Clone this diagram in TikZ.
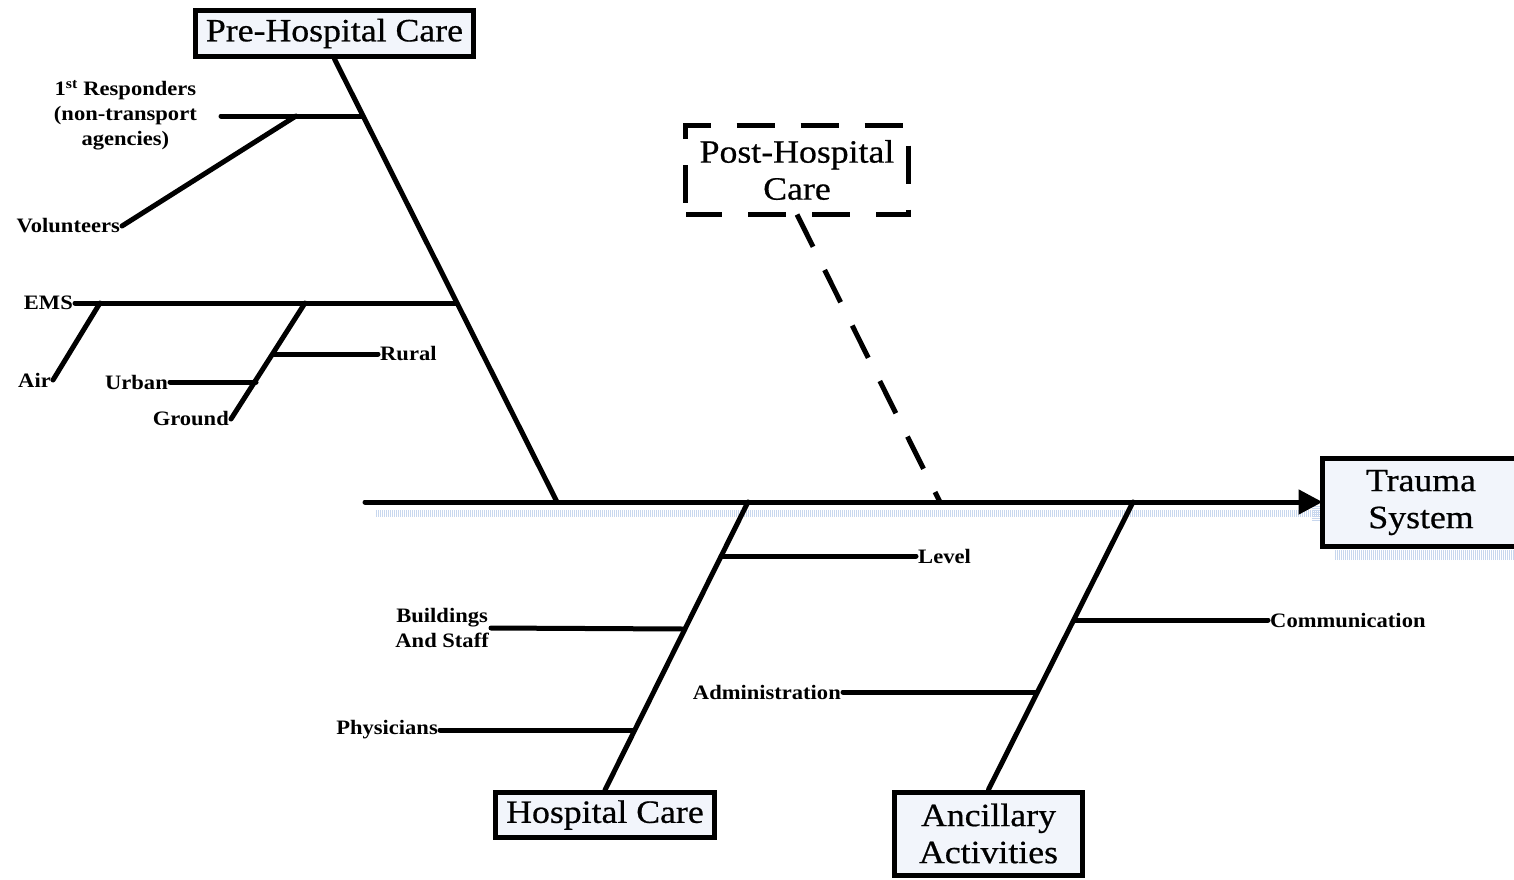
\documentclass[tikz,border=0pt]{standalone}
\usepackage{fontspec}
\setmainfont[FakeStretch=1.1]{Liberation Serif}
\newfontfamily\boxfont[FakeStretch=1.1,FakeBold=0.6]{Liberation Serif}
\usetikzlibrary{arrows.meta}
\definecolor{boxfill}{RGB}{242,245,251}
\definecolor{shadowblue}{RGB}{200,215,238}
\tikzset{
  bone/.style={line width=5pt, line cap=round},
  catbox/.style={draw, line width=5pt, fill=boxfill, inner sep=0pt, align=center,
    font=\boxfont\fontsize{32.5}{37}\selectfont},
  lbl/.style={inner sep=2pt, align=center, font=\bfseries\fontsize{20.5}{25}\selectfont},
  shad/.style={line width=7pt, shadowblue, dash pattern=on 1pt off 1pt},
}
\begin{document}
\begin{tikzpicture}[x=1pt,y=-1pt]
\useasboundingbox (0,0) rectangle (1514,879);
\clip (0,0) rectangle (1514,879);
% shadows
\draw[shad] (376,513) -- (1322,513);
\draw[shad, line width=10pt] (1335,555) -- (1520,555);
\draw[shad, line width=8pt] (1316,506) -- (1316,522);

% category boxes
\node[catbox, minimum width=278pt, minimum height=46pt] (pre) at (334.5,33.5) {\raisebox{-2pt}{Pre-Hospital Care}};
\node[catbox, draw=none, fill=none, minimum width=218pt, minimum height=84pt] (post) at (797,170) {Post-Hospital\\Care};
\draw[line width=5pt, dash pattern=on 38pt off 26pt, dash phase=-12pt]
  (post.south west) rectangle (post.north east);
\node[catbox, draw=none, minimum width=200pt, minimum height=83pt] (trauma) at (1425,502.5) {\hspace*{-8pt}Trauma\\\hspace*{-8pt}System};
\draw[line width=5pt, line join=miter] (trauma.north east) -- (trauma.north west) -- (trauma.south west) -- (trauma.south east);
\node[catbox, minimum width=219pt, minimum height=45pt] (hosp) at (605,815) {\raisebox{-2pt}{Hospital Care}};
\node[catbox, minimum width=188pt, minimum height=83pt] (anc) at (988.5,833.5) {Ancillary\\Activities};

% spine
\coordinate (tail) at (365,502);
\draw[line width=5pt, line cap=round, -{Triangle[length=24pt,width=24pt]}] (tail) -- (tail -| trauma.west);

% main bones
\coordinate (preJ) at (557,502);
\coordinate (postJ) at (940,502);
\coordinate (hospJ) at (748,502);
\coordinate (ancJ) at (1133,502);
\draw[bone] (pre.south) -- (preJ);
\draw[line width=5pt, dash pattern=on 36pt off 26pt] (post.south) -- (postJ);
\draw[bone] (hosp.north) -- (hospJ);
\draw[bone] (anc.north) -- (ancJ);

% Pre-hospital branches
\coordinate (respJ) at (363,116);
\coordinate (volJ) at (296,116);
\coordinate (emsJ) at (457,303);
\coordinate (airJ) at (100,303);
\coordinate (gndJ) at (305,303);
\coordinate (ruralJ) at (274,354);
\coordinate (urbanJ) at (256,382);

\node[lbl, anchor=east] (resp) at (199,115) {1\textsuperscript{st} Responders\\(non-transport\\agencies)};
\coordinate (respE) at (221,116);
\draw[bone] (respE) -- (respJ);
\node[lbl, anchor=east] (vol) at (122,226) {Volunteers};
\draw[bone] (vol.east) -- (volJ);
\node[lbl, anchor=east] (ems) at (75,303) {EMS};
\draw[bone] (ems.east) -- (emsJ);
\node[lbl, anchor=east] (air) at (53,380) {Air};
\draw[bone] (air.east) -- (airJ);
\node[lbl, anchor=east] (gnd) at (231,419) {Ground};
\draw[bone] (gnd.east) -- (gndJ);
\node[lbl, anchor=west] (rural) at (378,354) {Rural};
\draw[bone] (rural.west) -- (ruralJ);
\node[lbl, anchor=east] (urban) at (170,382) {Urban};
\draw[bone] (urban.east) -- (urbanJ);

% Hospital branches
\node[lbl, anchor=west] (level) at (916,556) {Level};
\draw[bone] (level.west) -- (721,556);
\node[lbl, anchor=east] (bldg) at (491,628) {Buildings\\And Staff};
\draw[bone] (bldg.east) -- (684,629);
\node[lbl, anchor=east] (phys) at (440,730) {Physicians};
\draw[bone] (phys.east) -- (634,730);

% Ancillary branches
\node[lbl, anchor=west] (comm) at (1268,620) {Communication};
\draw[bone] (comm.west) -- (1074,620);
\node[lbl, anchor=east] (admin) at (843,692) {Administration};
\draw[bone] (admin.east) -- (1037,692);
\end{tikzpicture}
\end{document}
